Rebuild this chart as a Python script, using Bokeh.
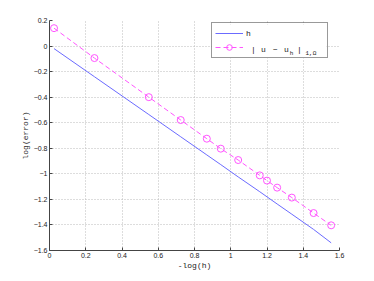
from bokeh.plotting import figure
from bokeh.models import Range1d, FixedTicker, Legend, LegendItem, Label, BoxAnnotation
from bokeh.embed import file_html
from bokeh.resources import INLINE

# data
neg_log_h = [0.025, 0.248, 0.548, 0.724, 0.868, 0.945, 1.041, 1.160, 1.200, 1.256, 1.337, 1.457, 1.554]
log_h = [-0.020, -0.240, -0.536, -0.710, -0.852, -0.928, -1.024, -1.140, -1.180, -1.236, -1.316, -1.435, -1.540]
log_err = [0.140, -0.094, -0.400, -0.579, -0.725, -0.803, -0.892, -1.012, -1.053, -1.108, -1.186, -1.307, -1.403]
x_ticks = [0, 0.2, 0.4, 0.6, 0.8, 1, 1.2, 1.4, 1.6]
y_ticks = [0.2, 0, -0.2, -0.4, -0.6, -0.8, -1, -1.2, -1.4, -1.6]

p = figure(frame_width=290, frame_height=230, output_backend="svg", toolbar_location=None,
           x_range=Range1d(0, 1.6), y_range=Range1d(-1.6, 0.2),
           min_border_left=49, min_border_top=20, min_border_right=27, min_border_bottom=20)
p.outline_line_color = None

for ax in (p.xaxis[0], p.yaxis[0]):
    ax.major_tick_in = 3
    ax.major_tick_out = 0
    ax.minor_tick_in = 0
    ax.minor_tick_out = 0
    ax.axis_line_color = "#444444"
    ax.major_tick_line_color = "#444444"
    ax.major_label_text_font = "Liberation Sans"
    ax.major_label_text_font_size = "7px"
    ax.major_label_text_color = "#222222"
    ax.axis_label_text_font = "Liberation Mono"
    ax.axis_label_text_font_size = "8px"
    ax.axis_label_text_font_style = "normal"
    ax.axis_label_text_color = "#222222"

p.xaxis.ticker = FixedTicker(ticks=x_ticks)
p.yaxis.ticker = FixedTicker(ticks=y_ticks)
p.xaxis.axis_label = "-log(h)"
p.yaxis.axis_label = "log(error)"
p.xaxis.major_label_standoff = 2
p.yaxis.major_label_standoff = 2
p.xaxis.axis_label_standoff = 0
p.yaxis.axis_label_standoff = 1

p.grid.grid_line_color = "#bbbbbb"
p.grid.grid_line_dash = "1 2"
p.grid.grid_line_width = 1

r1 = p.line(neg_log_h, log_h, line_color="#6b6bff", line_width=1)
r2 = p.line(neg_log_h, log_err, line_color="#ff55ff", line_width=1, line_dash="5 3")
r3 = p.scatter(neg_log_h, log_err, marker="circle", size=7, fill_color=None,
               line_color="#ff55ff", line_width=1)

# white backing for the legend box (screen units)
p.add_layout(BoxAnnotation(left=162, right=277, bottom=192, top=226,
                           left_units="screen", right_units="screen",
                           bottom_units="screen", top_units="screen",
                           fill_color="white", fill_alpha=1, line_color=None))

legend = Legend(items=[LegendItem(label="h", renderers=[r1]),
                       LegendItem(label=" ", renderers=[r2, r3])],
                location=(162, 192), orientation="vertical",
                border_line_color="#333333", border_line_width=1,
                background_fill_alpha=0, padding=3, spacing=0, margin=0,
                glyph_width=28, glyph_height=14, label_height=14, label_standoff=3,
                label_width=78,
                label_text_font="Liberation Mono", label_text_font_size="8px",
                label_text_color="#222222")
p.add_layout(legend)

# second legend label "| u - u_h |_{1,Ω}" built from pieces (screen units, frame-relative)
main_y = 201
sub_y = 197
pieces = [("|", 204, main_y, "8px", "center"),
          ("u", 214, main_y, "8px", "center"),
          ("−", 226, main_y, "8px", "center"),
          ("u", 237, main_y, "8px", "center"),
          ("h", 242, sub_y, "6px", "center"),
          ("|", 250, main_y, "8px", "center"),
          ("1,Ω", 256, sub_y, "6px", "left")]
for txt, sx, sy, fs, al in pieces:
    p.add_layout(Label(x=sx, y=sy, x_units="screen", y_units="screen", text=txt,
                       text_baseline="middle", text_align=al, level="overlay",
                       text_font="Liberation Mono", text_font_size=fs, text_color="#222222"))

open("out.html", "w").write(file_html(p, INLINE))
